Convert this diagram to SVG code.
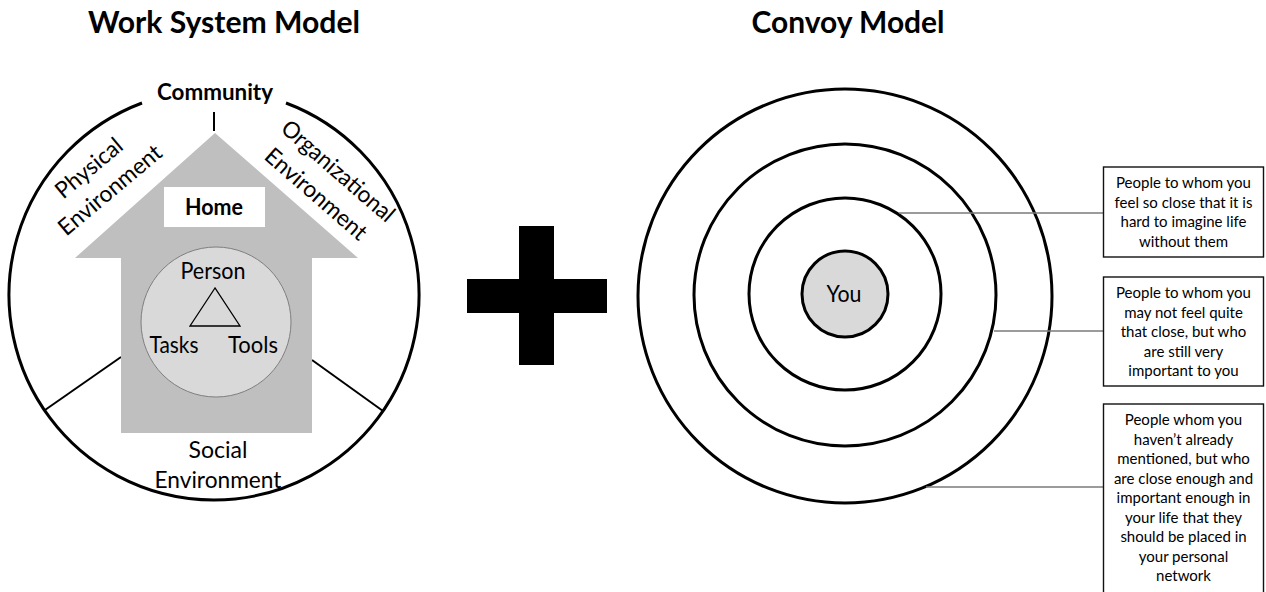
<svg xmlns="http://www.w3.org/2000/svg" width="1266" height="592" viewBox="0 0 1266 592">
<style>
text{font-family:Lato,"Open Sans","Liberation Sans",sans-serif;fill:#000;text-anchor:middle}
.title{font-size:31px;font-weight:bold}
.lbl{font-size:23px}
.bold{font-weight:bold}
.box{fill:#fff;stroke:#111;stroke-width:1.4}
.bt{font-size:15px}
.ring{fill:none;stroke:#000;stroke-width:3}
.div{stroke:#000;stroke-width:2;fill:none}
.conn{stroke:#7a7a7a;stroke-width:1.5;fill:none}
</style>
<rect width="1266" height="592" fill="#fff"/>
<text class="title" x="224" y="33" textLength="272" lengthAdjust="spacingAndGlyphs">Work System Model</text>
<text class="title" x="848" y="33" textLength="193" lengthAdjust="spacingAndGlyphs">Convoy Model</text>

<g id="work-system">
<path class="ring" stroke-width="2.6" d="M286,103 A205,205 0 1 1 142,103"/>
<line class="div" x1="214" y1="112" x2="214" y2="131"/>
<line class="div" x1="121" y1="357" x2="45" y2="410"/>
<line class="div" x1="312" y1="360" x2="383" y2="411"/>
<polygon id="home-arrow" points="215,133 358,258 312,258 312,433 121,433 121,258 75,258" fill="#bfbfbf"/>
<rect x="164" y="187" width="101" height="40" fill="#fff"/>
<circle cx="216" cy="322" r="75" fill="#d9d9d9" stroke="#7f7f7f" stroke-width="1"/>
<polygon points="215,288 190,326 240,326" fill="none" stroke="#000" stroke-width="1.3"/>
<text class="lbl bold" x="215" y="100" textLength="116" lengthAdjust="spacingAndGlyphs">Community</text>
<text class="lbl bold" x="214" y="215" textLength="58" lengthAdjust="spacingAndGlyphs">Home</text>
<text class="lbl" x="213" y="279" textLength="65" lengthAdjust="spacingAndGlyphs">Person</text>
<text class="lbl" x="174" y="353" textLength="49" lengthAdjust="spacingAndGlyphs">Tasks</text>
<text class="lbl" x="253" y="353" textLength="50" lengthAdjust="spacingAndGlyphs">Tools</text>
<text class="lbl" x="218" y="458" textLength="59" lengthAdjust="spacingAndGlyphs">Social</text>
<text class="lbl" x="218" y="488" textLength="127" lengthAdjust="spacingAndGlyphs">Environment</text>
<text class="lbl" transform="translate(94,174) rotate(-40)" textLength="80" lengthAdjust="spacingAndGlyphs">Physical</text>
<text class="lbl" transform="translate(115,196) rotate(-40)" textLength="127" lengthAdjust="spacingAndGlyphs">Environment</text>
<text class="lbl" transform="translate(333,177) rotate(41)" textLength="142" lengthAdjust="spacingAndGlyphs">Organizational</text>
<text class="lbl" transform="translate(311,200) rotate(41)" textLength="127" lengthAdjust="spacingAndGlyphs">Environment</text>
</g>

<g id="plus">
<rect x="519" y="226" width="35" height="139" fill="#000"/>
<rect x="467" y="279" width="140" height="34" fill="#000"/>
</g>

<g id="convoy">
<circle class="ring" cx="845" cy="296" r="207"/>
<circle class="ring" cx="845" cy="295" r="151"/>
<circle class="ring" cx="845" cy="294" r="96"/>
<g id="you">
<circle cx="845" cy="294" r="43" fill="#d9d9d9" stroke="#000" stroke-width="3"/>
<text class="lbl" x="844" y="302" textLength="35" lengthAdjust="spacingAndGlyphs">You</text>
</g>
</g>

<g id="connectors">
<line class="conn" x1="899" y1="213" x2="1103" y2="213"/>
<line class="conn" stroke="#000" x1="994" y1="331" x2="1103" y2="331"/>
<line class="conn" x1="926" y1="487" x2="1103" y2="487"/>
</g>

<g id="box1">
<rect class="box" x="1103.5" y="167" width="160" height="90"/>
<text class="bt" x="1183.5" y="188">People to whom you</text>
<text class="bt" x="1183.5" y="207.5">feel so close that it is</text>
<text class="bt" x="1183.5" y="227">hard to imagine life</text>
<text class="bt" x="1183.5" y="246.5">without them</text>
</g>
<g id="box2">
<rect class="box" x="1103.5" y="277" width="160" height="109"/>
<text class="bt" x="1183.5" y="298">People to whom you</text>
<text class="bt" x="1183.5" y="317.5">may not feel quite</text>
<text class="bt" x="1183.5" y="337">that close, but who</text>
<text class="bt" x="1183.5" y="356.5">are still very</text>
<text class="bt" x="1183.5" y="376">important to you</text>
</g>
<g id="box3">
<rect class="box" x="1103.5" y="404" width="160" height="200"/>
<text class="bt" x="1183.5" y="425">People whom you</text>
<text class="bt" x="1183.5" y="444.5">haven’t already</text>
<text class="bt" x="1183.5" y="464">mentioned, but who</text>
<text class="bt" x="1183.5" y="483.5">are close enough and</text>
<text class="bt" x="1183.5" y="503">important enough in</text>
<text class="bt" x="1183.5" y="522.5">your life that they</text>
<text class="bt" x="1183.5" y="542">should be placed in</text>
<text class="bt" x="1183.5" y="561.5">your personal</text>
<text class="bt" x="1183.5" y="581">network</text>
</g>
</svg>
